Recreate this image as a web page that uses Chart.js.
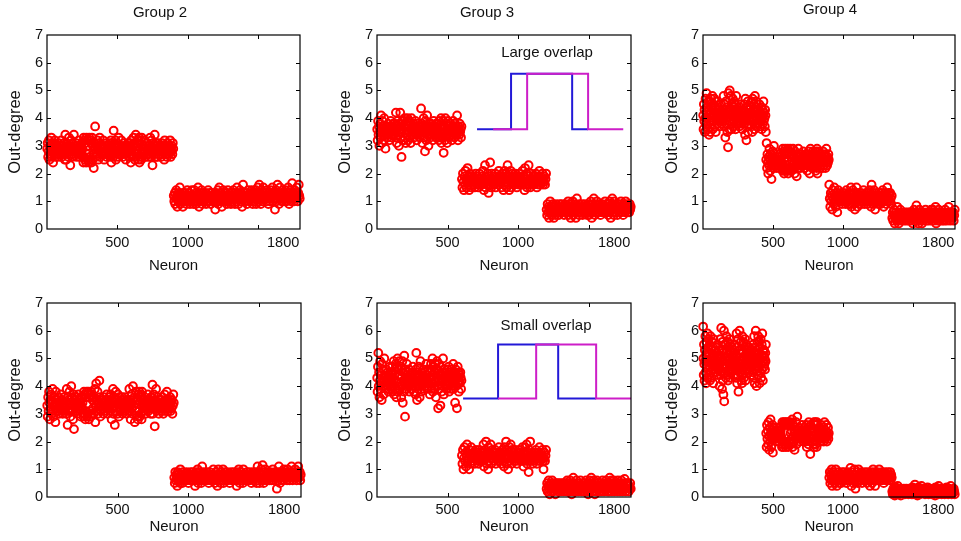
<!DOCTYPE html>
<html><head><meta charset="utf-8">
<script src="https://cdn.jsdelivr.net/npm/chart.js@4.4.0/dist/chart.umd.min.js"></script>
<style>
html,body{margin:0;padding:0;background:#fff;}
#wrap{position:relative;width:961px;height:541px;overflow:hidden;background:#fff;}
canvas{position:absolute;}
</style></head><body><div id="wrap">
<canvas id="c1" width="320" height="285" style="left:0px;top:0px"></canvas>
<canvas id="c2" width="320" height="285" style="left:320px;top:0px"></canvas>
<canvas id="c3" width="321" height="285" style="left:640px;top:0px"></canvas>
<canvas id="c4" width="320" height="271" style="left:0px;top:270px"></canvas>
<canvas id="c5" width="320" height="271" style="left:320px;top:270px"></canvas>
<canvas id="c6" width="321" height="271" style="left:640px;top:270px"></canvas>
</div>
<script>
// ---------- labels ----------
const groupTitles = ['Group 2', 'Group 3', 'Group 4'];
const xAxisTitle = 'Neuron';
const yAxisTitle = 'Out-degree';
const xTickLabels = ['500', '1000', '1800'];
const xTickLabelAt = [500, 1000, 1680];
const xTickMarks = [500, 1000, 1500];
const yTickValues = [0, 1, 2, 3, 4, 5, 6, 7];
const insetLabels = ['Large overlap', 'Small overlap'];

// ---------- segment boundaries (neuron index) ----------
const bounds2 = [0, 900, 1800];
const bounds3 = [0, 600, 1200, 1800];
const bounds4 = [0, 450, 900, 1350, 1800];

// ---------- top row, Group 2 ----------
const g2TopA = [2.9,3.1,2.6,2.8,3.2,2.5,3.0,2.7,2.9,3.3,2.6,2.8,3.1,2.4,2.9,3.0,2.7,3.2,2.6,2.9,
2.8,3.0,2.7,2.9,2.6,3.1,2.8,2.9,3.0,2.7,2.8,3.2,2.6,2.9,3.0,2.8,2.7,3.1,2.9,2.5,
3.4,2.8,2.5,3.1,2.7,3.0,2.9,2.6,3.3,2.8,3.0,2.3,2.9,3.2,2.7,2.6,3.1,2.9,2.8,3.4,
3.0,2.8,2.9,2.7,3.1,2.6,2.8,3.0,2.9,2.7,3.2,2.8,2.6,2.9,3.0,2.7,2.8,3.1,2.9,2.6,
2.4,3.3,2.6,3.2,2.5,3.1,2.4,3.3,2.7,3.2,2.5,3.0,2.4,3.3,2.6,3.2,2.5,3.1,2.4,3.3,
2.5,3.0,2.7,2.2,3.1,2.9,3.7,2.6,2.8,3.0,2.7,3.2,2.9,2.5,3.1,2.8,3.3,2.6,3.0,2.9,
2.8,3.0,2.7,2.9,3.2,2.8,2.5,3.0,2.9,2.7,2.8,3.1,2.6,2.9,3.0,2.8,2.7,2.9,3.1,2.6,
2.7,3.2,2.4,2.8,3.1,2.9,2.6,3.55,3.0,2.8,2.7,3.2,2.5,2.9,3.1,2.6,3.0,2.8,3.3,2.7,
3.0,2.8,2.9,2.7,3.2,2.8,3.0,2.6,2.9,2.7,3.1,2.8,2.9,3.0,2.5,2.8,2.7,3.0,2.9,3.1,
2.9,3.0,2.6,3.1,2.8,2.4,3.2,2.9,2.7,3.0,2.6,3.3,2.8,3.1,2.5,2.9,3.4,2.7,3.0,2.8,
2.7,3.2,2.5,3.3,2.4,3.1,2.6,3.2,2.5,3.3,
2.6,2.8,3.0,2.9,2.7,3.2,2.8,2.6,3.0,2.9,2.7,3.1,2.8,2.9,2.6,3.0,2.8,2.7,3.3,2.9,
2.6,3.2,2.9,2.3,3.1,2.8,3.0,2.7,3.4,2.9,2.6,3.1,2.8,3.0,2.6,2.9,3.1,2.7,2.8,3.0,
2.8,3.0,2.6,2.9,3.1,2.7,2.8,3.0,2.9,2.5,3.2,2.8,2.7,3.0,2.9,2.6,3.1,2.8,2.9,2.7,
3.0,2.8,3.2,2.6,2.9,2.8,3.0,2.7,3.1,2.9];
const g2TopB = [1.2,1.0,1.3,0.9,1.1,1.4,1.2,0.8,1.1,1.3,1.0,1.2,1.5,0.9,1.1,1.2,1.0,1.3,0.8,1.1,
1.1,1.2,1.0,1.3,1.1,0.9,1.2,1.4,1.1,1.0,1.2,1.3,0.9,1.1,1.2,1.0,1.4,1.1,1.2,0.9,
1.2,1.4,1.0,1.1,0.9,1.3,1.2,1.0,1.5,1.1,0.8,1.2,1.3,1.0,1.1,1.4,0.9,1.2,1.1,1.3,
1.0,1.2,1.1,1.3,0.9,1.2,1.0,1.1,1.4,1.2,1.0,1.3,1.1,0.9,1.2,1.1,1.3,1.0,1.2,1.1,
1.0,1.2,0.7,1.1,1.3,1.0,1.2,1.4,0.9,1.1,1.5,1.2,1.0,1.3,1.1,0.8,1.2,1.0,1.4,1.1,
1.2,1.1,1.3,1.0,1.2,0.9,1.1,1.4,1.2,1.0,1.3,1.1,1.2,0.9,1.1,1.3,1.0,1.2,1.4,1.1,
1.3,0.9,1.2,1.1,1.0,1.5,1.2,1.3,0.9,1.1,1.2,1.4,1.0,1.3,1.1,0.8,1.2,1.6,1.1,1.3,
1.1,1.2,1.0,1.3,1.2,0.9,1.1,1.4,1.2,1.0,1.1,1.3,1.2,1.0,1.4,1.1,0.9,1.2,1.3,1.1,
1.0,1.2,1.4,0.9,1.3,1.1,1.5,1.2,1.0,1.6,1.3,1.1,0.9,1.2,1.4,1.0,1.3,1.5,1.1,1.2,
1.2,1.3,1.1,1.0,1.4,1.2,1.1,0.9,1.3,1.2,1.0,1.4,1.1,1.3,1.2,1.5,1.0,1.2,1.3,1.1,
0.7,1.3,1.4,1.0,1.2,1.6,1.1,1.3,0.9,1.2,1.5,1.1,1.2,1.0,1.3,1.4,1.1,1.2,1.0,1.3,
1.2,1.4,1.1,1.0,1.3,1.2,1.5,1.1,0.9,1.3,1.2,1.4,1.0,1.2,1.65,1.1,1.3,1.2,1.0,1.4,
1.2,1.3,1.1,1.5,1.2,1.0,1.3,1.6,1.2,1.1];

// ---------- top row, Group 3 ----------
const g3TopA = [3.6,3.2,3.9,3.4,3.7,3.0,3.5,3.8,3.3,4.1,3.6,3.1,3.9,3.5,3.7,3.2,4.0,3.4,3.6,2.9,
3.5,3.7,3.4,3.6,3.3,3.8,3.5,3.6,3.2,3.7,3.5,3.9,3.4,3.6,3.3,3.7,3.5,3.8,3.4,3.6,
3.8,3.5,3.3,4.2,3.6,3.1,3.7,3.9,3.4,3.5,3.0,3.8,3.6,4.2,3.3,3.7,2.6,3.5,3.9,3.2,
3.9,3.2,3.7,4.0,3.3,3.8,3.1,3.6,3.9,3.4,4.0,3.2,3.7,3.5,3.9,3.3,3.8,3.1,3.6,4.0,
3.6,3.4,3.7,3.5,3.8,3.3,3.6,3.5,3.9,3.4,3.7,3.2,3.6,3.5,3.8,3.4,3.6,3.7,3.3,3.5,
3.6,4.35,3.4,3.8,3.1,3.7,3.5,4.0,3.3,3.6,2.8,3.9,3.5,3.2,3.7,4.1,3.4,3.6,3.0,3.8,
3.5,3.7,3.3,3.6,3.8,3.4,3.5,3.7,3.2,3.6,3.9,3.5,3.4,3.7,3.6,3.3,3.8,3.5,3.6,3.4,
3.4,3.8,3.2,3.9,3.5,3.3,3.7,4.0,3.1,3.6,
3.5,3.3,3.9,2.75,3.6,3.7,3.2,4.0,3.5,3.4,3.8,3.1,3.6,3.9,3.5,3.3,3.7,3.6,3.4,3.8,
3.6,3.5,3.2,3.7,3.4,3.9,3.5,3.6,3.3,3.8,3.5,3.7,3.4,3.6,4.1,3.5,3.2,3.7,3.6,3.4,
3.8,3.5,3.6,3.3,3.7];
const g3TopB = [1.8,1.5,2.0,1.7,1.4,1.9,1.6,2.1,1.8,1.5,1.7,2.2,1.6,1.9,1.4,1.8,2.0,1.7,1.5,1.9,
1.7,1.8,1.6,1.9,1.7,1.5,1.8,2.0,1.7,1.6,1.9,1.8,1.5,1.7,2.0,1.6,1.8,1.7,1.9,1.6,
1.6,2.1,1.8,1.4,1.7,2.3,1.5,1.9,1.8,1.6,2.0,1.7,1.3,1.9,1.8,2.4,1.6,1.5,2.0,1.7,
1.8,1.7,1.9,1.6,1.8,2.0,1.5,1.7,1.9,1.8,1.6,1.7,2.1,1.8,1.6,1.9,1.7,1.5,1.8,2.0,
1.9,1.4,1.8,2.1,1.6,1.7,2.0,1.5,1.9,2.3,1.8,1.6,1.4,1.9,1.7,2.1,1.5,1.8,2.0,1.6,
1.7,1.9,1.8,1.6,2.0,1.7,1.8,1.5,1.9,1.7,1.6,1.8,2.0,1.7,1.9,1.6,1.8,1.7,2.1,1.6,
1.7,1.9,1.4,2.2,1.8,1.6,2.0,1.5,1.7,1.9,2.3,1.6,1.8,1.5,2.0,1.7,1.8,1.6,1.9,1.7,
1.8,1.6,1.9,1.7,2.0,1.8,1.5,1.7,1.9,1.6,1.8,2.1,1.7,1.6,1.9,1.8,1.7,2.0,1.6,1.8,
1.7,1.9,1.6,1.8,2.0];
const g3TopC = [0.7,0.5,0.9,0.6,0.8,0.4,0.7,1.0,0.6,0.8,0.5,0.7,0.9,0.6,0.4,0.8,0.7,0.5,0.9,0.6,
0.7,0.6,0.8,0.7,0.5,0.9,0.7,0.6,0.8,0.7,0.9,0.6,0.7,0.8,0.5,0.7,0.6,0.9,0.7,0.8,
0.8,0.7,1.0,0.5,0.6,0.9,0.7,0.4,0.8,0.6,0.7,1.0,0.5,0.8,0.9,0.6,0.7,0.4,0.8,1.1,
0.6,0.8,0.7,0.5,0.9,0.7,0.6,0.8,0.7,0.9,0.5,0.7,0.8,0.6,0.7,0.9,0.6,0.8,0.7,0.5,
0.6,0.7,0.9,0.5,0.8,0.6,1.0,0.7,0.4,0.9,0.6,0.8,1.1,0.7,0.5,0.9,0.6,0.8,1.0,0.7,
0.7,0.8,0.6,0.9,0.7,0.5,0.8,0.7,0.6,0.9,0.7,0.8,0.6,0.7,1.0,0.6,0.8,0.7,0.9,0.6,
0.5,0.9,0.6,1.0,0.8,0.4,0.7,0.9,1.1,0.6,0.8,0.5,1.0,0.7,0.9,0.6,0.8,0.7,0.5,0.9,
0.7,0.8,0.6,0.9,0.7,1.0,0.6,0.8,0.7,0.5,0.9,0.7,0.8,0.6,1.0,0.7,0.9,0.8,0.6,0.7,
0.8,0.6,0.9,0.7,0.8];

// ---------- top row, Group 4 ----------
const g4TopA = [4.1,3.6,4.5,3.9,4.3,3.5,4.0,4.7,3.8,4.2,4.9,3.7,4.4,4.0,3.6,4.6,4.1,3.4,4.3,3.9,
4.6,3.5,4.2,4.7,3.8,4.4,4.0,4.8,3.6,4.3,4.5,3.9,4.1,4.7,3.7,4.4,4.2,3.5,4.6,4.0,
4.0,4.2,3.8,4.1,4.4,3.9,4.0,4.3,3.7,4.1,4.2,3.9,4.5,4.0,3.8,4.2,4.1,3.9,4.3,4.0,
4.8,4.0,3.7,4.5,4.2,3.3,4.1,4.6,3.8,4.0,4.4,3.5,4.2,2.95,4.9,3.9,4.3,3.6,5.0,4.1,
3.9,4.8,4.3,3.6,4.5,4.1,3.8,4.7,4.2,3.7,4.4,4.6,3.9,4.0,4.5,3.6,4.3,4.8,3.8,4.1,
3.9,4.1,4.3,3.8,4.0,4.2,3.7,4.4,4.0,3.9,4.1,4.5,3.8,4.2,4.0,3.6,4.3,4.1,3.9,4.2,
3.8,4.5,4.0,3.4,4.7,3.9,4.2,3.2,4.4,3.7,4.1,4.6,3.5,4.3,3.8,4.0,4.2,3.9,4.4,4.1,
4.4,3.7,4.6,4.2,3.5,4.7,4.0,4.3,3.9,4.5,4.1,3.6,4.8,4.2,3.8,4.4,4.6,3.7,4.3,4.0,
4.0,3.8,4.3,4.1,3.9,4.5,4.0,3.7,4.2,4.1,3.9,4.4,3.6,4.0,4.3,3.8,4.1,4.6,3.9,4.2,
4.0,3.7,4.3,4.1,3.5];
const g4TopB = [2.5,3.1,2.2,2.7,2.4,2.0,2.6,2.3,2.9,2.5,2.1,2.7,2.4,1.8,2.6,2.3,2.8,2.5,2.2,3.0,
2.4,2.5,2.3,2.6,2.4,2.2,2.5,2.7,2.3,2.4,2.6,2.5,2.2,2.4,2.7,2.3,2.5,2.6,2.4,2.3,
2.1,2.9,2.2,2.8,2.0,2.7,2.1,2.9,2.3,2.8,2.1,2.7,2.2,2.9,2.0,2.8,2.2,2.7,2.1,2.9,
2.4,2.6,2.1,2.7,2.5,2.3,2.9,2.2,2.6,2.4,2.0,2.8,2.5,2.3,2.7,1.9,2.4,2.6,2.2,2.9,
2.5,2.3,2.6,2.4,2.7,2.2,2.5,2.4,2.3,2.6,2.5,2.8,2.3,2.4,2.6,2.2,2.5,2.7,2.4,2.3,
2.5,2.1,2.7,2.4,2.3,2.8,2.5,2.0,2.6,2.9,2.3,2.4,2.7,2.2,2.5,2.8,2.4,2.6,2.3,2.5,
2.3,2.8,2.1,2.7,2.2,2.9,2.0,2.8,2.3,2.7,
2.4,2.6,2.2,2.5,2.7,2.3,2.4,2.6,2.5,2.2,2.8,2.4,2.3,2.6,2.5,2.7,2.2,2.4,2.9,2.5,
2.3,2.6,2.4,2.7,2.5];
const g4TopC = [1.6,1.1,0.8,1.3,1.0,1.2,0.7,1.4,1.1,0.9,1.5,1.0,1.2,0.8,1.3,1.1,0.6,1.2,1.4,1.0,
1.1,1.2,1.0,1.3,1.1,0.9,1.2,1.0,1.1,1.3,1.0,1.2,0.9,1.1,1.4,1.0,1.2,1.1,0.9,1.3,
0.9,1.3,1.1,1.5,0.8,1.2,1.0,1.4,0.9,1.1,1.3,0.7,1.2,1.0,1.5,1.1,0.8,1.3,1.2,0.9,
1.1,1.0,1.2,1.3,0.9,1.1,1.2,1.0,1.4,1.1,0.9,1.2,1.0,1.3,1.1,1.2,0.9,1.0,1.3,1.1,
1.4,1.0,1.2,0.8,1.6,1.1,1.3,0.9,1.0,1.4,1.2,0.7,1.1,1.3,1.0,1.2,1.1,0.9,1.3,1.0,
1.2,1.1,0.9,1.3,1.0,1.2,1.4,1.1,0.8,1.2,1.0,1.3,1.1,0.9,1.2,1.5,1.0,1.1,1.3,1.2,
1.0,1.3,1.1,0.9,1.2];
const g4TopD = [0.4,0.6,0.3,0.5,0.7,0.2,0.4,0.6,0.5,0.3,0.8,0.4,0.5,0.2,0.6,0.4,0.7,0.3,0.5,0.4,
0.5,0.4,0.6,0.3,0.5,0.4,0.6,0.5,0.3,0.4,0.5,0.6,0.4,0.3,0.5,0.6,0.4,0.5,0.3,0.6,
0.6,0.2,0.5,0.7,0.3,0.4,0.6,0.5,0.85,0.3,0.4,0.6,0.2,0.5,0.7,0.4,0.3,0.6,0.5,0.2,
0.4,0.5,0.3,0.6,0.4,0.5,0.7,0.4,0.3,0.5,0.6,0.4,0.5,0.3,0.6,0.5,0.4,0.7,0.5,0.3,
0.4,0.7,0.5,0.3,0.6,0.4,0.8,0.2,0.5,0.6,0.3,0.4,0.7,0.5,0.3,0.6,0.5,0.4,0.6,0.3,
0.5,0.4,0.6,0.3,0.5,0.7,0.4,0.5,0.3,0.6,0.4,0.5,0.8,0.4,0.6,0.3,0.5,0.4,0.6,0.5,
0.4,0.6,0.3,0.5,0.7];

// ---------- bottom row, Group 2 ----------
const g2BotA = [3.3,2.9,3.6,3.1,3.8,3.4,2.8,3.5,3.2,3.7,3.0,3.4,3.9,3.1,2.9,3.6,3.3,3.5,2.7,3.8,
3.3,3.4,3.1,3.5,3.2,3.6,3.0,3.3,3.4,3.2,3.7,3.1,3.3,3.5,3.0,3.4,3.2,3.6,3.3,3.1,
3.2,3.4,3.0,3.9,3.3,2.6,3.6,3.1,3.5,3.8,3.2,2.9,3.4,4.0,3.1,3.6,3.3,2.8,3.7,2.45,
3.4,3.2,3.5,3.1,3.3,3.6,3.0,3.4,3.2,3.7,3.3,3.1,3.5,3.4,2.9,3.3,3.6,3.2,3.4,3.0,
2.9,3.8,3.0,3.7,2.8,3.6,3.1,3.8,2.9,3.7,3.0,3.8,2.8,3.6,3.1,3.7,2.9,3.8,3.0,3.6,
3.5,3.2,3.0,3.6,3.4,3.9,2.7,3.3,4.1,3.1,3.5,3.8,3.0,3.4,3.2,4.2,3.6,2.9,3.3,3.1,
3.3,3.5,3.2,3.4,3.0,3.6,3.3,3.1,3.5,3.4,3.2,3.7,3.3,3.0,3.4,3.5,3.2,3.6,3.1,3.3,
3.7,3.4,2.8,3.5,3.2,3.9,3.0,3.6,3.3,2.6,3.4,3.8,3.1,3.5,3.2,3.0,3.7,3.4,2.9,3.6,
3.2,3.4,3.1,3.5,3.3,3.6,3.0,3.4,3.2,3.5,3.3,3.1,3.6,3.4,3.2,3.0,3.5,3.3,3.4,3.1,
3.3,3.9,3.1,3.5,2.8,3.4,3.7,3.2,3.0,4.0,3.5,3.3,3.6,2.7,3.4,3.1,3.8,3.2,3.5,2.9,
2.8,3.7,3.1,3.8,2.9,3.6,3.0,3.7,2.8,3.8,
3.4,3.2,3.5,3.3,3.1,3.6,3.4,3.0,3.3,3.5,3.2,3.4,3.7,3.1,3.3,3.5,3.2,3.4,3.0,3.6,
3.6,3.3,4.05,3.0,3.4,3.7,3.2,2.55,3.5,3.3,3.9,3.1,3.4,3.2,3.6,3.3,3.0,3.5,3.4,3.2,
3.3,3.5,3.1,3.4,3.6,3.2,3.0,3.4,3.3,3.7,3.1,3.5,3.2,3.4,3.8,3.3,3.1,3.5,3.2,3.4,
3.3,3.6,3.1,3.4,3.2,3.5,3.0,3.3,3.7,3.4];
const g2BotB = [0.7,0.5,0.9,0.6,0.8,0.7,0.4,0.9,0.6,0.8,0.7,0.5,1.0,0.6,0.8,0.7,0.5,0.9,0.7,0.6,
0.7,0.8,0.6,0.7,0.9,0.6,0.8,0.7,0.5,0.8,0.7,0.6,0.9,0.7,0.8,0.6,0.7,0.9,0.6,0.8,
0.8,0.4,0.7,0.9,0.6,0.8,1.0,0.5,0.7,0.6,0.9,0.7,0.8,0.5,0.6,1.1,0.7,0.9,0.6,0.8,
0.7,0.6,0.8,0.7,0.9,0.6,0.7,0.8,0.5,0.7,0.9,0.6,0.8,0.7,0.6,0.8,0.7,1.0,0.6,0.7,
0.5,0.7,0.9,0.6,0.8,0.4,0.7,1.0,0.6,0.8,0.7,0.5,0.9,0.7,0.6,0.8,1.0,0.5,0.7,0.9,
0.7,0.8,0.6,0.7,0.9,0.7,0.6,0.8,0.7,0.5,0.8,0.7,0.9,0.6,0.7,0.8,0.6,0.7,0.9,0.8,
0.6,0.8,0.7,0.4,0.9,0.6,0.7,1.0,0.8,0.5,0.7,0.9,0.6,0.8,0.7,0.5,1.0,0.7,0.8,0.6,
0.8,0.7,0.6,0.9,0.7,0.8,0.6,0.7,0.9,0.6,0.8,0.7,0.5,0.8,0.7,0.9,0.6,0.7,0.8,0.7,
0.9,0.7,0.5,0.8,1.1,0.6,0.7,0.9,0.5,0.8,0.7,1.0,0.6,0.8,1.15,0.7,0.5,0.9,0.6,1.0,
0.7,0.8,0.6,0.7,0.9,0.8,0.7,0.6,0.8,0.9,0.7,0.6,0.8,0.7,1.0,0.6,0.8,0.7,0.9,0.7,
0.8,0.7,0.3,0.9,0.6,0.8,1.1,0.7,0.5,0.9,0.8,0.6,0.7,0.9,0.8,0.6,1.0,0.7,0.8,0.9,
0.7,0.8,0.6,1.0,0.7,0.9,0.8,0.6,0.7,0.9,0.8,1.1,0.7,0.6,0.8,0.9,0.7,0.8,1.0,0.7,
0.8,0.6,0.9,0.7,1.1,0.8,0.7,0.9,0.6,0.8];

// ---------- bottom row, Group 3 ----------
const g3BotA = [4.3,3.8,4.7,5.2,4.0,4.5,3.6,4.2,4.9,3.9,4.4,4.1,3.5,4.8,4.3,4.0,4.6,3.7,4.2,5.0,
4.2,4.4,4.0,4.3,4.6,3.9,4.2,4.5,4.1,4.3,3.8,4.4,4.2,4.7,4.0,4.3,4.1,4.5,3.9,4.2,
4.7,3.8,4.5,4.0,4.9,3.7,4.4,4.6,3.9,4.8,4.2,3.6,4.7,4.1,5.0,3.8,4.4,4.6,4.0,4.9,
4.4,3.9,4.1,4.7,3.6,4.3,4.0,4.9,3.4,4.5,4.2,3.8,5.1,4.1,2.9,4.6,4.3,3.9,4.4,4.8,
4.1,4.3,4.5,4.0,4.2,4.6,3.8,4.3,4.1,4.4,4.2,3.9,4.5,4.0,4.3,4.7,4.1,4.2,3.8,4.4,
4.0,4.2,3.7,4.6,5.2,4.1,3.5,4.5,4.3,3.9,4.7,4.0,4.4,3.6,4.2,4.9,4.1,3.8,4.5,4.3,
4.2,4.4,4.1,4.6,3.9,4.3,4.2,4.5,4.0,4.3,4.8,4.1,4.4,3.9,4.2,4.6,4.0,4.3,4.1,4.5,
3.7,4.5,4.3,4.8,3.9,4.6,4.1,5.0,3.8,4.4,4.7,4.0,4.5,3.9,4.8,4.2,3.6,4.6,4.3,4.9,
4.0,4.6,3.2,4.4,4.8,3.9,4.2,4.1,3.3,4.7,4.3,3.8,4.5,4.0,4.4,5.0,4.2,3.7,4.6,4.3,
4.3,4.1,4.5,4.2,3.9,4.4,4.6,4.0,4.3,4.2,4.7,3.8,4.4,4.1,4.3,4.5,3.9,4.2,4.6,4.0,
4.4,4.2,4.8,3.9,4.3,4.1,4.5,3.4,4.2,4.6,4.0,4.4,3.2,4.3,4.7,4.1,4.5,3.8,4.2,4.4,
4.1,4.5,4.3,3.9,4.2];
const g3BotB = [1.5,1.2,1.7,1.0,1.4,1.8,1.3,1.6,1.1,1.5,1.9,1.3,1.6,1.4,1.0,1.7,1.5,1.2,1.8,1.4,
1.4,1.5,1.3,1.6,1.4,1.2,1.5,1.7,1.4,1.3,1.6,1.5,1.2,1.4,1.7,1.3,1.5,1.6,1.4,1.3,
1.6,1.3,1.9,1.1,1.5,1.7,1.4,2.0,1.2,1.6,1.5,1.0,1.8,1.3,1.6,1.4,1.9,1.2,1.5,1.7,
1.5,1.4,1.6,1.3,1.5,1.7,1.2,1.4,1.6,1.5,1.3,1.4,1.8,1.5,1.3,1.6,1.4,1.2,1.5,1.7,
1.3,1.6,1.1,1.8,1.4,1.5,2.0,1.2,1.7,1.4,1.0,1.6,1.5,1.8,1.3,1.9,1.4,1.2,1.7,1.5,
1.4,1.6,1.5,1.3,1.7,1.4,1.5,1.2,1.6,1.4,1.3,1.5,1.7,1.4,1.6,1.3,1.5,1.4,1.8,1.3,
1.1,1.6,1.4,1.8,1.3,1.5,1.9,1.2,1.6,1.4,0.9,1.7,1.5,2.0,1.3,1.5,1.4,1.6,1.2,1.5,
1.5,1.3,1.6,1.4,1.7,1.5,1.2,1.4,1.6,1.3,1.5,1.8,1.4,1.3,1.6,1.5,1.4,1.7,1.3,1.0,
1.4,1.6,1.3,1.5,1.7];
const g3BotC = [0.3,0.5,0.2,0.4,0.6,0.3,0.1,0.4,0.5,0.2,0.3,0.6,0.4,0.2,0.5,0.3,0.4,0.1,0.5,0.3,
0.4,0.3,0.5,0.2,0.4,0.3,0.5,0.4,0.2,0.3,0.4,0.5,0.3,0.2,0.4,0.5,0.3,0.4,0.2,0.5,
0.6,0.2,0.4,0.3,0.5,0.2,0.6,0.4,0.3,0.1,0.5,0.4,0.7,0.2,0.3,0.5,0.4,0.2,0.6,0.3,
0.3,0.4,0.2,0.5,0.3,0.4,0.6,0.3,0.2,0.4,0.5,0.3,0.4,0.2,0.5,0.4,0.3,0.6,0.4,0.2,
0.4,0.1,0.5,0.3,0.6,0.2,0.4,0.7,0.3,0.5,0.2,0.4,0.6,0.3,0.1,0.5,0.4,0.2,0.6,0.3,
0.3,0.5,0.4,0.2,0.4,0.3,0.5,0.2,0.4,0.6,0.3,0.4,0.2,0.5,0.3,0.4,0.6,0.3,0.5,0.2,
0.4,0.5,0.2,0.7,0.3,0.4,0.6,0.2,0.5,0.3,0.4,0.6,0.2,0.5,0.3,0.4,0.3,0.5,0.2,0.6,
0.3,0.4,0.5,0.2,0.4,0.3,0.6,0.4,0.2,0.5,0.3,0.4,0.65,0.3,0.2,0.5,0.4,0.3,0.5,0.4,
0.2,0.4,0.3,0.5,0.3];

// ---------- bottom row, Group 4 ----------
const g4BotA = [6.15,5.0,4.4,5.5,4.8,4.2,5.3,4.9,5.8,4.5,5.1,4.1,5.6,4.7,5.2,4.3,5.9,4.9,4.6,5.4,
5.7,4.4,5.2,4.7,5.5,4.2,5.0,5.8,4.5,5.3,4.8,4.3,5.6,4.9,5.1,4.6,5.4,4.1,5.7,4.8,
4.9,5.1,4.7,5.3,4.6,5.0,4.8,5.4,4.5,5.2,4.9,4.4,5.0,5.5,4.7,5.1,4.8,5.3,4.6,5.0,
4.0,5.1,4.8,5.7,4.4,5.0,6.1,4.5,5.3,3.9,4.9,5.6,4.2,5.2,3.7,4.7,6.0,3.45,5.5,4.8,
5.0,4.5,5.5,4.3,5.2,5.8,4.7,4.4,5.3,4.9,5.6,4.2,5.1,4.6,5.4,4.8,5.7,4.3,5.0,5.5,
5.0,4.7,5.2,4.9,4.5,5.4,4.8,5.1,4.6,5.3,4.9,5.0,4.4,5.2,4.7,5.5,4.9,4.6,5.1,4.8,
4.3,5.1,5.9,4.6,4.1,5.4,4.9,4.4,5.7,3.8,5.0,4.6,5.3,6.0,4.5,4.8,5.2,4.7,5.6,4.2,
4.6,5.3,4.1,5.8,4.9,4.4,5.2,5.6,4.7,4.3,5.4,5.0,4.5,5.7,4.8,4.2,5.1,5.5,4.6,5.3,
4.9,5.2,4.6,5.0,4.8,5.3,4.5,5.1,4.7,5.4,4.9,4.6,5.0,5.2,4.8,4.4,5.3,4.9,5.1,4.7,
5.0,4.5,5.5,4.8,5.2,4.3,5.8,4.9,4.1,5.4,4.7,5.0,6.0,4.6,5.3,4.0,5.1,4.8,5.6,4.4,
4.9,5.8,4.4,5.2,4.7,5.6,4.1,5.0,5.4,4.5,5.7,4.8,4.3,5.1,5.5,4.6,5.9,4.9,4.2,5.3,
4.9,5.1,4.7,5.3,4.8,5.0,4.6,5.2,4.9,5.5];
const g4BotB = [2.3,1.8,2.6,2.1,2.4,1.9,2.7,2.2,1.7,2.5,2.0,2.8,2.3,1.8,2.4,2.1,2.6,1.6,2.2,2.5,
2.2,2.3,2.1,2.4,2.2,2.0,2.3,2.5,2.1,2.2,2.4,2.3,2.0,2.2,2.5,2.1,2.3,2.4,2.2,2.1,
1.8,2.7,1.9,2.6,1.8,2.7,2.0,2.6,1.9,2.7,1.8,2.6,2.0,2.7,1.9,2.6,1.8,2.7,2.0,2.6,
2.0,2.7,2.3,1.9,2.4,2.1,2.8,1.8,2.2,2.6,2.0,2.4,1.7,2.3,2.5,2.1,2.7,1.9,2.2,2.9,
2.3,2.1,2.4,2.2,2.5,2.0,2.3,2.2,2.1,2.4,2.3,2.6,2.1,2.2,2.4,2.0,2.3,2.5,2.2,2.1,
2.4,2.0,2.6,1.8,2.3,2.1,2.5,1.9,2.7,2.2,2.4,2.0,1.55,2.6,2.3,2.1,2.5,2.2,2.0,2.4,
1.9,2.7,1.8,2.6,2.0,2.7,1.9,2.6,1.8,2.7,
2.2,2.4,2.1,2.3,2.5,2.1,2.2,2.4,2.3,2.0,2.6,2.2,2.1,2.4,2.3,2.5,2.0,2.2,2.7,2.3,
2.1,2.4,2.2,2.6,2.0,2.3,2.2,2.5,2.1,2.3];
const g4BotC = [0.7,0.9,0.5,0.8,0.6,1.0,0.4,0.7,0.9,0.6,0.8,0.5,0.7,1.0,0.6,0.4,0.8,0.7,0.9,0.5,
0.7,0.6,0.8,0.7,0.5,0.9,0.7,0.6,0.8,0.7,0.9,0.6,0.7,0.8,0.5,0.7,0.6,0.9,0.7,0.8,
0.6,0.8,1.05,0.7,0.4,0.9,0.6,0.8,0.5,0.7,1.0,0.6,0.3,0.8,0.7,0.9,0.5,0.6,1.0,0.7,
0.8,0.7,0.6,0.9,0.7,0.5,0.8,0.7,0.6,0.8,0.9,0.7,0.6,0.8,0.7,0.5,0.9,0.6,0.8,0.7,
0.8,0.4,0.6,0.9,0.7,0.5,0.8,1.0,0.6,0.7,0.9,0.4,0.8,0.6,0.7,0.9,0.6,0.8,0.7,1.0,
0.7,0.6,0.8,0.7,0.9,0.6,0.7,0.8,0.5,0.7,0.9,0.8,0.6,0.7,0.8,0.6,0.9,0.7,0.8,0.6,
0.7,0.9,0.6,0.8,0.7];
const g4BotD = [0.2,0.1,0.3,0.15,0.25,0.05,0.2,0.35,0.1,0.3,0.2,0.4,0.15,0.25,0.1,0.2,0.3,0.05,0.25,0.2,
0.2,0.25,0.15,0.3,0.2,0.1,0.25,0.2,0.3,0.15,0.2,0.25,0.1,0.2,0.3,0.15,0.25,0.2,0.1,0.3,
0.35,0.1,0.2,0.3,0.15,0.45,0.2,0.1,0.25,0.3,0.05,0.2,0.35,0.15,0.25,0.1,0.3,0.2,0.4,0.15,
0.2,0.3,0.15,0.25,0.2,0.1,0.3,0.2,0.25,0.15,0.35,0.2,0.1,0.25,0.2,0.3,0.15,0.2,0.25,0.1,
0.2,0.25,0.1,0.3,0.2,0.05,0.35,0.15,0.25,0.2,0.3,0.1,0.4,0.2,0.15,0.3,0.2,0.25,0.1,0.2,
0.3,0.15,0.2,0.25,0.1,0.3,0.2,0.15,0.35,0.2,0.25,0.1,0.2,0.3,0.15,0.2,0.4,0.25,0.1,0.2,
0.25,0.15,0.3,0.2,0.1];

// ---------- inset step profiles (neuron, out-degree scale) ----------
const largeBlueX = [709, 950, 1383, 1496];
const largeBlueY = [3.6, 5.6, 3.6, 3.6];
const largeMagX = [823, 1064, 1496, 1745];
const largeMagY = [3.6, 5.6, 3.6, 3.6];
const smallBlueX = [610, 858, 1284, 1553];
const smallBlueY = [3.55, 5.5, 3.55, 3.55];
const smallMagX = [858, 1128, 1553, 1800];
const smallMagY = [3.55, 5.5, 3.55, 3.55];
const largeLabelAt = [1205, 6.35];
const smallLabelAt = [1198, 6.17];

// ---------- build ----------
Chart.defaults.font.family = "'Liberation Sans', Arial, Helvetica, sans-serif";
Chart.defaults.color = '#111';

function segPoints(bounds, segs) {
  const pts = [];
  segs.forEach((vals, k) => {
    const a = bounds[k], b = bounds[k + 1], n = vals.length, step = (b - a) / n;
    vals.forEach((v, i) => pts.push({x: a + (i + 0.5) * step, y: v}));
  });
  return pts;
}
function stepLine(xs, ys) { return xs.map((x, i) => ({x: x, y: ys[i]})); }

const boxPlugin = {
  id: 'boxTicks',
  afterDatasetsDraw(chart) {
    const {ctx, chartArea: ca, scales} = chart;
    ctx.save();
    ctx.strokeStyle = '#000';
    ctx.lineWidth = 1.2;
    ctx.strokeRect(ca.left, ca.top, ca.right - ca.left, ca.bottom - ca.top);
    ctx.lineWidth = 1;
    ctx.beginPath();
    xTickMarks.forEach(v => {
      const px = Math.round(scales.x.getPixelForValue(v)) + 0.5;
      ctx.moveTo(px, ca.bottom); ctx.lineTo(px, ca.bottom - 4);
      ctx.moveTo(px, ca.top); ctx.lineTo(px, ca.top + 4);
    });
    yTickValues.slice(1, -1).forEach(v => {
      const py = Math.round(scales.y.getPixelForValue(v)) + 0.5;
      ctx.moveTo(ca.left, py); ctx.lineTo(ca.left + 4, py);
      ctx.moveTo(ca.right, py); ctx.lineTo(ca.right - 4, py);
    });
    ctx.stroke();
    const o = chart.options.plugins.boxTicks;
    ctx.fillStyle = '#111';
    ctx.textAlign = 'center';
    ctx.textBaseline = 'middle';
    ctx.font = "15px 'Liberation Sans', Arial, sans-serif";
    if (o.title) ctx.fillText(o.title, o.titleX, o.titleY);
    if (o.inset) {
      ctx.fillText(o.inset, scales.x.getPixelForValue(o.insetAt[0]), scales.y.getPixelForValue(o.insetAt[1]));
    }
    ctx.restore();
  }
};

const panels = [
  {id: 'c1', row: 0, yW: 47, padR: 20, yTitlePad: 5.4, title: groupTitles[0], titleX: 160, titleY: 13,
   bounds: bounds2, segs: [g2TopA, g2TopB]},
  {id: 'c2', row: 0, yW: 57, padR: 9, yTitlePad: 15.4, title: groupTitles[1], titleX: 167, titleY: 13,
   bounds: bounds3, segs: [g3TopA, g3TopB, g3TopC],
   blue: stepLine(largeBlueX, largeBlueY), mag: stepLine(largeMagX, largeMagY), inset: insetLabels[0], insetAt: largeLabelAt},
  {id: 'c3', row: 0, yW: 63, padR: 5, yTitlePad: 22.4, title: groupTitles[2], titleX: 190, titleY: 10,
   bounds: bounds4, segs: [g4TopA, g4TopB, g4TopC, g4TopD]},
  {id: 'c4', row: 1, yW: 47, padR: 19, yTitlePad: 5.4,
   bounds: bounds2, segs: [g2BotA, g2BotB]},
  {id: 'c5', row: 1, yW: 57, padR: 9, yTitlePad: 15.4,
   bounds: bounds3, segs: [g3BotA, g3BotB, g3BotC],
   blue: stepLine(smallBlueX, smallBlueY), mag: stepLine(smallMagX, smallMagY), inset: insetLabels[1], insetAt: smallLabelAt},
  {id: 'c6', row: 1, yW: 63, padR: 4, yTitlePad: 22.4,
   bounds: bounds4, segs: [g4BotA, g4BotB, g4BotC, g4BotD]}
];
const rowGeom = [
  {padT: 35, xH: 56, tickPad: 5, xTitlePad: 10},
  {padT: 33, xH: 44, tickPad: 4, xTitlePad: 5}
];

panels.forEach(p => {
  const g = rowGeom[p.row];
  const datasets = [{
    label: 'out-degree',
    data: segPoints(p.bounds, p.segs),
    pointStyle: 'circle',
    pointRadius: 3.9,
    pointBorderWidth: 2,
    pointBorderColor: 'rgb(255,0,0)',
    pointBackgroundColor: 'rgba(0,0,0,0)',
    showLine: false,
    clip: false,
    order: 3
  }];
  if (p.blue) {
    datasets.push({label: 'blue', data: p.blue, showLine: true, stepped: 'before', borderColor: 'rgb(35,25,215)',
      borderWidth: 2, pointRadius: 0, fill: false, order: 2, clip: false});
    datasets.push({label: 'magenta', data: p.mag, showLine: true, stepped: 'before', borderColor: 'rgb(205,30,200)',
      borderWidth: 2, pointRadius: 0, fill: false, order: 1, clip: false});
  }
  new Chart(document.getElementById(p.id), {
    type: 'scatter',
    data: {datasets},
    options: {
      responsive: false,
      animation: false,
      devicePixelRatio: 1,
      events: [],
      layout: {padding: {left: 0, right: p.padR, top: g.padT, bottom: 0}},
      plugins: {
        legend: {display: false},
        tooltip: {enabled: false},
        boxTicks: {title: p.title, titleX: p.titleX, titleY: p.titleY, inset: p.inset, insetAt: p.insetAt}
      },
      scales: {
        x: {
          type: 'linear', min: 0, max: 1800,
          grid: {display: false, drawTicks: false},
          border: {display: false},
          afterBuildTicks: s => { s.ticks = xTickLabelAt.map(v => ({value: v})); },
          afterFit: s => { s.height = g.xH; },
          ticks: {
            padding: g.tickPad, maxRotation: 0, autoSkip: false,
            font: {size: 14.5},
            callback: (v) => { const i = xTickLabelAt.indexOf(v); return i >= 0 ? xTickLabels[i] : ''; }
          },
          title: {display: true, text: xAxisTitle, font: {size: 15}, padding: {top: 0, bottom: g.xTitlePad}}
        },
        y: {
          type: 'linear', min: 0, max: 7,
          grid: {display: false, drawTicks: false},
          border: {display: false},
          afterBuildTicks: s => { s.ticks = yTickValues.map(v => ({value: v})); },
          afterFit: s => { s.width = p.yW; },
          ticks: {padding: 4, font: {size: 14.5}},
          title: {display: true, text: yAxisTitle, font: {size: 16.5}, padding: {top: p.yTitlePad, bottom: 0}}
        }
      }
    },
    plugins: [boxPlugin]
  });
});
</script>
</body></html>
